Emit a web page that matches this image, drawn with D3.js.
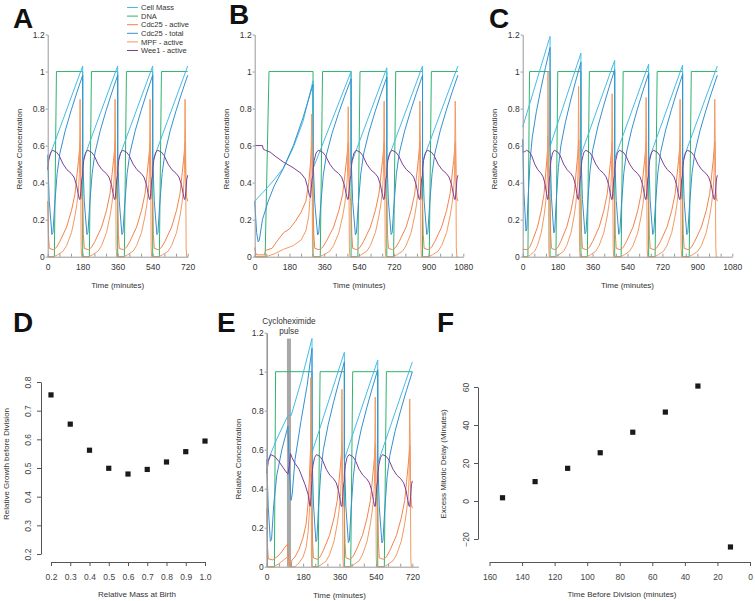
<!DOCTYPE html>
<html lang="en">
<head>
<meta charset="UTF-8">
<title>Cell cycle model</title>
<script src="https://d3js.org/d3.v7.min.js"></script>
<style>
  body { margin: 0; background: #fff; }
  svg { font-family: "Liberation Sans", Arial, sans-serif; }
  .axis path, .axis line { stroke: #999; }
  .axis text { fill: #333; font-size: 8.5px; font-family: "Liberation Sans", Arial, sans-serif; }
  .raxis path, .raxis line { stroke: #555; }
  .raxis text { fill: #444; font-size: 8.5px; font-family: "Liberation Sans", Arial, sans-serif; }
  .title { fill: #333; font-size: 8px; }
  .letter { font-size: 28px; font-weight: bold; fill: #111; }
  .legend text { font-size: 7.5px; fill: #333; }
</style>
</head>
<body>
<svg id="fig" width="755" height="601"></svg>
<script>
// series
const seriesNames = ["Cell Mass", "DNA", "Cdc25 - active", "Cdc25 - total", "MPF - active", "Wee1 - active"];
const seriesColors = ["#45bce8", "#2eb36e", "#f3834c", "#3590d0", "#f39a63", "#7c3f97"];
const drawOrder = [1, 0, 3, 2, 4, 5];

// steady-state cycle: [phase (0 = birth, 1 = division), value]
// null marks the spike, its height is given per cycle
const tplDNA = [[0, 0], [0.19, 0], [0.25, 1], [1, 1]];
const tplCdcAct = [[0, 0.30], [0.02, 0.12], [0.045, 0.045], [0.16, 0.038], [0.25, 0.05], [0.35, 0.083],
  [0.54, 0.16], [0.68, 0.25], [0.78, 0.34], [0.83, 0.43], [0.88, 0.52], [0.91, 0.58], [0.93, null],
  [0.95, 0.40], [0.97, 0.32], [1, 0.30]];
const tplTotal = [[0, 0.55], [0.045, 0.30], [0.12, 0.12], [0.15, 0.13], [0.2, 0.28], [0.27, 0.45],
  [0.35, 0.56], [0.5, 0.68], [0.67, 0.79], [0.83, 0.885], [1, 0.98]];
const tplMPF = [[0, 0], [0.17, 0], [0.28, 0.01], [0.44, 0.03], [0.54, 0.06], [0.68, 0.13], [0.78, 0.22],
  [0.83, 0.28], [0.88, 0.36], [0.905, 0.45], [0.925, null], [0.94, 0.6], [0.955, 0.05], [0.97, 0], [1, 0]];
const tplWee1 = [[0, 0.47], [0.03, 0.52], [0.08, 0.56], [0.14, 0.575], [0.25, 0.565], [0.33, 0.545],
  [0.44, 0.50], [0.55, 0.47], [0.67, 0.45], [0.75, 0.43], [0.82, 0.39], [0.87, 0.34], [0.905, 0.31],
  [0.925, 0.31], [0.95, 0.36], [0.975, 0.42], [1, 0.44]];

// cycles: [start, division, mass at birth, mass at division, MPF peak, Cdc25 active peak, Cdc25 total at division]
const cyclesA = [
  [0, 180, 0.515, 1.03, 0.85, 0.62, 0.98],
  [180, 360, 0.515, 1.03, 0.85, 0.62, 0.98],
  [360, 540, 0.515, 1.03, 0.85, 0.62, 0.98],
  [540, 720, 0.515, 1.03, 0.85, 0.62, 0.98]
];
const cyclesB = [
  [302, 499, 0.475, 1.00, 0.81, 0.62, 0.96],
  [499, 684, 0.50, 1.02, 0.84, 0.62, 0.97],
  [684, 869, 0.51, 1.03, 0.84, 0.62, 0.98],
  [869, 1052, 0.515, 1.03, 0.84, 0.62, 0.98]
];
const cyclesC = [
  [0, 141, 0.70, 1.19, 1.00, 0.65, 1.13],
  [141, 300, 0.595, 1.10, 0.92, 0.63, 1.05],
  [300, 474, 0.55, 1.06, 0.88, 0.62, 1.01],
  [474, 649, 0.53, 1.04, 0.86, 0.62, 0.99],
  [649, 824, 0.52, 1.035, 0.85, 0.62, 0.985],
  [824, 1003, 0.518, 1.03, 0.85, 0.62, 0.98]
];
const cyclesE = [
  [224, 384, 0.585, 1.10, 0.91, 0.63, 1.05],
  [384, 549, 0.55, 1.06, 0.87, 0.63, 1.01],
  [549, 720, 0.53, 1.05, 0.86, 0.62, 1.00]
];

// panel B, first (long) cycle, minutes
const b1Mass = [[0, 0.30], [50, 0.355], [100, 0.415], [150, 0.48], [200, 0.59], [250, 0.73], [302, 0.95]];
const b1Dna = [[0, 0], [54, 0], [74, 1], [302, 1]];
const b1Act = [[0, 0.05], [5, 0.02], [10, 0.01], [50, 0.01], [58, 0.035], [90, 0.045], [120, 0.09], [150, 0.13],
  [180, 0.15], [210, 0.19], [240, 0.24], [265, 0.30], [280, 0.40], [290, 0.52], [296, 0.62], [299, 0.45], [302, 0.30]];
const b1Total = [[0, 0.30], [10, 0.13], [18, 0.08], [24, 0.09], [40, 0.20], [70, 0.30], [100, 0.38], [145, 0.47],
  [200, 0.60], [250, 0.75], [302, 0.93]];
const b1Mpf = [[0, 0], [60, 0], [100, 0.015], [150, 0.04], [200, 0.06], [240, 0.09], [265, 0.14], [280, 0.22],
  [290, 0.37], [295, 0.77], [297, 0.6], [299, 0.05], [302, 0]];
const b1Wee1 = [[0, 0.60], [40, 0.60], [45, 0.58], [55, 0.575], [80, 0.565], [110, 0.54], [150, 0.51], [200, 0.48],
  [240, 0.45], [262, 0.42], [275, 0.37], [283, 0.33], [289, 0.32], [293, 0.37], [297, 0.42], [302, 0.44]];

// panel E, first cycle with the cycloheximide pulse
const pulse = [100, 120, 1.17];
const e1Mass = [[0, 0.53], [50, 0.655], [100, 0.765], [105, 0.775], [121, 0.775], [170, 0.95], [224, 1.17]];
const e1Dna = [[0, 0], [38, 0], [44, 1], [224, 1]];
const e1Act = [[0, 0.30], [4, 0.10], [8, 0.04], [30, 0.035], [50, 0.05], [70, 0.07], [90, 0.10], [103, 0.115],
  [107, 0.05], [112, 0.01], [120, 0.005], [125, 0.035], [140, 0.05], [160, 0.09], [180, 0.15], [195, 0.22],
  [205, 0.33], [212, 0.48], [216, 0.58], [218, 0.63], [220, 0.45], [222, 0.32], [224, 0.30]];
const e1Total = [[0, 0.55], [8, 0.30], [18, 0.13], [24, 0.14], [35, 0.32], [50, 0.47], [75, 0.60], [100, 0.70],
  [105, 0.72], [112, 0.50], [120, 0.34], [126, 0.37], [140, 0.55], [170, 0.75], [200, 0.93], [224, 1.12]];
const e1Mpf = [[0, 0], [35, 0], [60, 0.015], [90, 0.04], [103, 0.05], [108, 0.02], [112, 0], [140, 0], [160, 0.02],
  [180, 0.05], [195, 0.10], [205, 0.18], [212, 0.30], [216, 0.45], [218, 0.97], [220, 0.7], [221, 0.05], [223, 0], [224, 0]];
const e1Wee1 = [[0, 0.48], [8, 0.54], [20, 0.575], [40, 0.565], [60, 0.54], [80, 0.51], [100, 0.48], [105, 0.475],
  [112, 0.52], [118, 0.58], [125, 0.56], [140, 0.53], [160, 0.50], [175, 0.46], [190, 0.42], [205, 0.37],
  [212, 0.32], [216, 0.31], [219, 0.36], [222, 0.42], [224, 0.44]];

// panel D
const massAtBirth = [0.2, 0.3, 0.4, 0.5, 0.6, 0.7, 0.8, 0.9, 1.0];
const growthBeforeDivision = [0.755, 0.653, 0.562, 0.499, 0.479, 0.495, 0.521, 0.557, 0.594];

// panel F
const timeBeforeDivision = [152, 132, 112, 92, 72, 52, 32, 12];
const excessDelay = [1.7, 10.2, 17.2, 25.4, 36.2, 46.8, 60.5, -24.2];

const yTicks = [0, 0.2, 0.4, 0.6, 0.8, 1, 1.2];

const svg = d3.select("#fig");

function buildSeries(first, cycles, opt) {
  opt = opt || {};
  const out = seriesNames.map(() => []);
  if (first) first.forEach((arr, i) => out[i].push(...arr));
  cycles.forEach((c, k) => {
    const [t0, t1, m0, m1, hi, lo, tot] = c;
    const T = p => t0 + p * (t1 - t0);
    out[0].push([t0, m0], [t1, m1]);
    tplDNA.forEach(([p, v]) => out[1].push([T(p), v]));
    tplCdcAct.forEach(([p, v]) => {
      let val = v === null ? lo : v;
      if (k === 0 && opt.act0 != null && p < 0.16) val = opt.act0;
      out[2].push([T(p), val]);
    });
    tplTotal.forEach(([p, v]) => out[3].push([T(p), v * tot / 0.98]));
    tplMPF.forEach(([p, v]) => out[4].push([T(p), v === null ? hi : v]));
    tplWee1.forEach(([p, v]) => {
      let val = v;
      if (k === 0 && opt.wee0 != null && p < 0.14) val = opt.wee0;
      out[5].push([T(p), val]);
    });
  });
  return out;
}

function timePanel(cfg) {
  const g = svg.append("g");
  const x = d3.scaleLinear().domain([0, cfg.tmax]).range([cfg.left, cfg.right]);
  const y = d3.scaleLinear().domain([0, 1.2]).range([cfg.bottom, cfg.top]);

  if (cfg.pulse) {
    g.append("rect")
      .attr("x", x(cfg.pulse[0]))
      .attr("width", x(cfg.pulse[1]) - x(cfg.pulse[0]))
      .attr("y", y(cfg.pulse[2]))
      .attr("height", y(0) - y(cfg.pulse[2]))
      .attr("fill", "#a8a8a8");
  }

  const line = d3.line().x(d => x(d[0])).y(d => y(d[1]));
  drawOrder.forEach(i => {
    g.append("path")
      .datum(cfg.series[i])
      .attr("d", line)
      .attr("fill", "none")
      .attr("stroke", seriesColors[i])
      .attr("stroke-width", 1)
      .attr("stroke-linejoin", "round");
  });

  // x axis: ticks every hour, labels every 3 hours
  g.append("g")
    .attr("class", "axis")
    .attr("transform", `translate(0,${cfg.bottom})`)
    .call(d3.axisBottom(x)
      .tickValues(d3.range(0, cfg.tickMax + 1, 60))
      .tickSize(-3).tickSizeOuter(0).tickPadding(7)
      .tickFormat(d => d % 180 === 0 ? d : ""));

  const ya = g.append("g")
    .attr("class", "axis")
    .attr("transform", `translate(${cfg.left},0)`)
    .call(d3.axisLeft(y).tickValues(yTicks).tickSize(2).tickSizeOuter(0).tickPadding(1)
      .tickFormat(d3.format("~g")));
  if (cfg.pulse) ya.select("path").attr("stroke", "#8a8a8a").attr("stroke-width", 1.6);

  g.append("text")
    .attr("class", "title")
    .attr("text-anchor", "middle")
    .attr("transform", `translate(${cfg.left - 26},${cfg.ymid}) rotate(-90)`)
    .text("Relative Concentration");

  g.append("text")
    .attr("class", "title")
    .attr("text-anchor", "middle")
    .attr("x", x(cfg.tickMax / 2))
    .attr("y", cfg.bottom + 31)
    .text("Time (minutes)");
  return { g, x, y };
}

// panel A
timePanel({ left: 47.7, right: 187.7, tmax: 720, tickMax: 720, top: 34.5, bottom: 256.7, ymid: 149,
  series: buildSeries(null, cyclesA) });

// legend
const legend = svg.append("g").attr("class", "legend");
seriesNames.forEach((name, i) => {
  const yy = 7.5 + i * 8.6;
  legend.append("line").attr("x1", 127).attr("x2", 138).attr("y1", yy).attr("y2", yy)
    .attr("stroke", seriesColors[i]).attr("stroke-width", 1);
  legend.append("text").attr("x", 141).attr("y", yy).attr("dy", "0.35em").text(name);
});

// panel B
timePanel({ left: 254.7, right: 463.3, tmax: 1080, tickMax: 1080, top: 34.5, bottom: 256.7, ymid: 149,
  series: buildSeries([b1Mass, b1Dna, b1Act, b1Total, b1Mpf, b1Wee1], cyclesB) });

// panel C
timePanel({ left: 522.7, right: 732.3, tmax: 1080, tickMax: 1080, top: 34.5, bottom: 256.7, ymid: 149,
  series: buildSeries(null, cyclesC, { act0: 0.04, wee0: 0.567 }) });

// panel E
const panelE = timePanel({ left: 266.7, right: 418.4, tmax: 750, tickMax: 720, top: 332.7, bottom: 566.7, ymid: 459,
  pulse: pulse,
  series: buildSeries([e1Mass, e1Dna, e1Act, e1Total, e1Mpf, e1Wee1], cyclesE) });

panelE.g.append("text").attr("class", "title").attr("text-anchor", "middle")
  .attr("x", panelE.x(110)).attr("y", 324).style("font-size", "8.2px").text("Cycloheximide");
panelE.g.append("text").attr("class", "title").attr("text-anchor", "middle")
  .attr("x", panelE.x(110)).attr("y", 334).style("font-size", "8.2px").text("pulse");

// panel D
{
  const g = svg.append("g");
  const x = d3.scaleLinear().domain([0.2, 1.0]).range([51, 205]);
  const y = d3.scaleLinear().domain([0.2, 0.8]).range([554, 382]);
  g.append("g").attr("class", "raxis").attr("transform", "translate(0,562)")
    .call(d3.axisBottom(x).tickValues(massAtBirth).tickSize(4).tickSizeOuter(0).tickPadding(8)
      .tickFormat(d3.format(".1f")));
  const ya = g.append("g").attr("class", "raxis").attr("transform", "translate(41,0)")
    .call(d3.axisLeft(y).tickValues([0.2, 0.3, 0.4, 0.5, 0.6, 0.7, 0.8]).tickSize(4).tickSizeOuter(0)
      .tickFormat(d3.format(".1f")));
  ya.selectAll("text").attr("x", null).attr("dy", null).attr("text-anchor", "middle")
    .attr("transform", "translate(-10,0) rotate(-90)");
  g.selectAll("rect.pt").data(massAtBirth).join("rect")
    .attr("x", d => x(d) - 2.6).attr("y", (d, i) => y(growthBeforeDivision[i]) - 2.6)
    .attr("width", 5.2).attr("height", 5.2).attr("fill", "#1a1a1a");
  g.append("text").attr("class", "title").attr("text-anchor", "middle")
    .attr("transform", "translate(8.5,464) rotate(-90)").text("Relative Growth before Division");
  g.append("text").attr("class", "title").attr("text-anchor", "middle")
    .attr("x", 137).attr("y", 597).text("Relative Mass at Birth");
}

// panel F
{
  const g = svg.append("g");
  const x = d3.scaleLinear().domain([160, 0]).range([489.5, 750]);
  const y = d3.scaleLinear().domain([-20, 60]).range([539, 387]);
  g.append("g").attr("class", "raxis").attr("transform", "translate(0,562)")
    .call(d3.axisBottom(x).tickValues(d3.range(160, -1, -20)).tickSize(4).tickSizeOuter(0).tickPadding(8));
  const ya = g.append("g").attr("class", "raxis").attr("transform", "translate(478,0)")
    .call(d3.axisLeft(y).tickValues([-20, 0, 20, 40, 60]).tickSize(4).tickSizeOuter(0));
  ya.selectAll("text").attr("x", null).attr("dy", null).attr("text-anchor", "middle")
    .attr("transform", "translate(-9,0) rotate(-90)");
  g.selectAll("rect.pt").data(timeBeforeDivision).join("rect")
    .attr("x", d => x(d) - 2.6).attr("y", (d, i) => y(excessDelay[i]) - 2.6)
    .attr("width", 5.2).attr("height", 5.2).attr("fill", "#1a1a1a");
  g.append("text").attr("class", "title").attr("text-anchor", "middle")
    .attr("transform", "translate(446,464) rotate(-90)").text("Excess Mitotic Delay (Minutes)");
  g.append("text").attr("class", "title").attr("text-anchor", "middle")
    .attr("x", 622).attr("y", 597).text("Time Before Division (minutes)");
}

// panel letters
[["A", 13, 28], ["B", 229, 23.5], ["C", 489, 28], ["D", 13, 332], ["E", 217, 332], ["F", 437, 332]]
  .forEach(([t, lx, ly]) => svg.append("text").attr("class", "letter").attr("x", lx).attr("y", ly).text(t));
</script>
</body>
</html>
